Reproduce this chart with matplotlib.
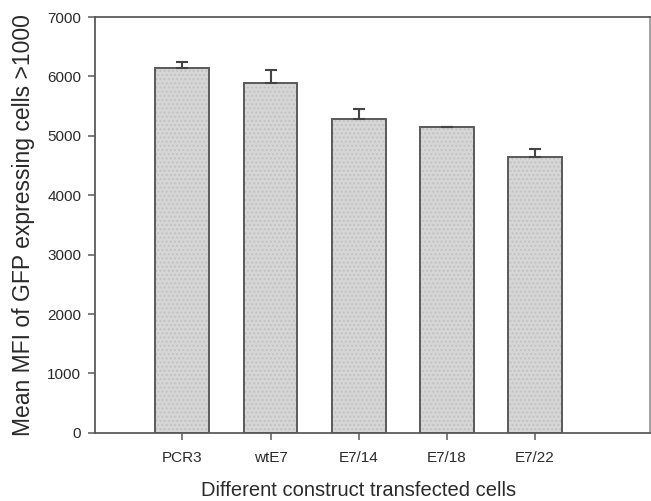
import numpy as np
import matplotlib.pyplot as plt

plt.rcParams["font.family"] = ["Liberation Sans", "DejaVu Sans"]

constructs = ["PCR3", "wtE7", "E7/14", "E7/18", "E7/22"]
mean_mfi = [6140, 5895, 5290, 5145, 4640]
mfi_err = [100, 215, 160, 12, 135]
yticks = [0, 1000, 2000, 3000, 4000, 5000, 6000, 7000]

edge = "#5a5a5a"
text_col = "#2a2a2a"

fig = plt.figure(figsize=(6.51, 5.01), dpi=100)
ax = fig.add_axes([0.146, 0.136, 0.852, 0.830])

x = np.arange(len(constructs))
# fill with a faint dotted pattern, then outline on top
ax.bar(x, mean_mfi, width=0.61, color="#d6d6d6", edgecolor="#c2c2c2",
       hatch="....", linewidth=0, zorder=2)
ax.bar(x, mean_mfi, width=0.61, color="none", edgecolor=edge,
       linewidth=1.4, zorder=3)
ax.errorbar(x, mean_mfi, yerr=[np.zeros(len(mfi_err)), mfi_err], fmt="none",
            ecolor="#444444", elinewidth=1.5, capsize=4.5, capthick=1.5, zorder=4)

ax.set_xlim(-0.99, 5.3)
ax.set_ylim(0, 7000)
ax.set_xticks(x)
ax.set_xticklabels(constructs)
ax.set_yticks(yticks)

for s in ax.spines.values():
    s.set_color(edge)
    s.set_linewidth(1.3)
ax.spines["right"].set_color("#9a9a9a")
ax.tick_params(direction="out", length=5, width=1.1, color=edge,
               labelsize=11, labelcolor=text_col, pad=5)
ax.tick_params(axis="x", pad=8)

ax.set_ylabel("Mean MFI of GFP expressing cells >1000", fontsize=16.5,
              color=text_col, labelpad=9)
ax.set_xlabel("Different construct transfected cells", fontsize=14.5,
              color=text_col, labelpad=10)
ax.xaxis.set_label_coords(0.476, -0.115)

fig.savefig("out.png", dpi=100)
